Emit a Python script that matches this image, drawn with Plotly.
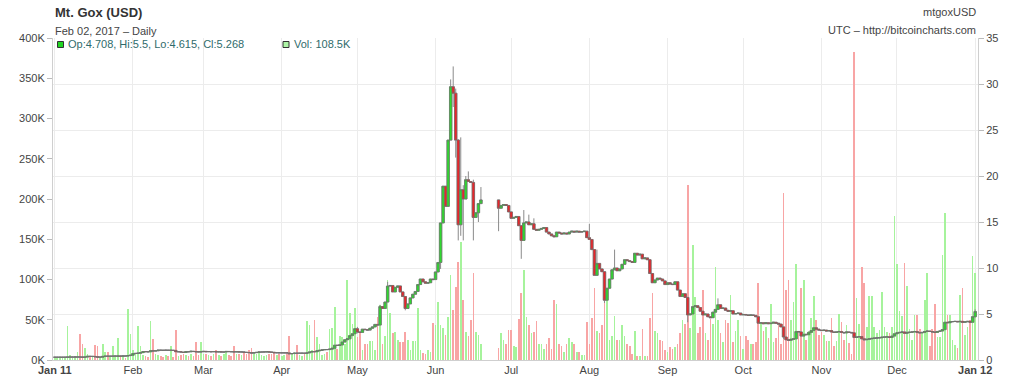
import pandas as pd
import plotly.graph_objects as go

# ---------------- data (daily, Mt.Gox 2011) ----------------
jan_close = [0.30,0.30,0.30,0.30,0.30,0.32,0.32,0.32,0.32,0.33,0.32,0.31,0.32,0.40,0.39,0.39,0.35,0.31,0.31,0.39,0.42,0.41,0.41,0.42,0.42,0.43,0.42,0.44,0.43,0.48,0.52]
jan_vol = [2,3,2,4,3,42,6,3,5,10,32,20,15,8,5,4,19,17,3,20,10,10,4,17,6,27,4,5,3,63,32]

feb_close = [0.70,0.72,0.74,0.80,0.92,0.90,0.89,1.00,0.98,1.00,1.07,1.06,1.05,1.07,1.05,1.06,1.04,0.90,0.90,0.86,0.82,0.91,0.89,0.95,0.92,0.89,0.88,0.90]
feb_vol = [12,8,42,17,6,5,4,48,26,8,6,5,4,6,5,17,4,37,5,6,8,6,5,8,5,22,6,22]

mar_close = [0.94,0.90,0.92,0.89,0.92,0.88,0.89,0.87,0.87,0.93,0.91,0.90,0.88,0.90,0.87,0.88,0.84,0.82,0.80,0.75,0.80,0.83,0.87,0.87,0.88,0.89,0.86,0.84,0.79,0.79,0.78]
mar_vol = [8,8,6,5,7,12,6,5,8,10,6,5,18,7,8,6,10,8,12,15,9,7,11,6,5,6,8,7,10,6,8]

apr_close = [0.78,0.78,0.77,0.68,0.70,0.74,0.73,0.74,0.74,0.73,0.77,0.86,0.92,0.90,1.00,1.05,1.10,1.14,1.13,1.18,1.27,1.61,1.58,1.64,1.95,2.20,2.30,2.65,2.85,3.40]
apr_vol = [5,6,7,30,8,10,19,6,5,8,48,43,12,50,29,20,6,8,10,38,40,66,14,30,29,20,100,58,45,65]

may_close = [3.05,3.00,3.35,3.30,3.25,3.45,3.60,3.87,3.80,5.81,5.60,6.30,8.03,8.10,7.40,7.90,8.05,7.40,6.90,5.60,6.10,6.75,7.15,7.45,8.20,8.80,8.50,8.35,8.40,8.80,8.74]
may_vol = [29,33,12,20,20,24,24,12,54,68,20,30,100,58,33,35,25,22,22,35,25,12,24,24,65,12,9,7,12,10,46]

# June: trading halted Jun 20-25
jun_close = [9.57,10.60,14.90,18.89,16.70,23.90,29.70,29.00,23.90,14.70,18.50,17.50,19.60,19.40,19.30,15.50,16.00,17.00,17.40,
             16.50,16.80,16.90,16.80,16.10]
jun_vol = [43,72,43,40,31,54,105,62,91,122,147,75,35,30,50,108,35,31,20,
           15,33,25,20,37]

jul_close = [15.40,15.50,15.60,14.60,13.00,14.90,15.00,14.70,14.80,14.20,14.10,14.20,14.30,14.40,13.90,13.70,13.50,13.40,13.90,13.80,13.70,13.80,13.70,13.90,14.00,13.90,14.00,13.90,13.95,14.00,13.30]
jul_vol = [37,18,16,51,83,112,53,43,33,35,48,20,20,14,20,27,14,75,70,20,18,10,20,27,22,20,10,10,6,6,47]

aug_close = [13.10,12.00,9.20,10.50,9.90,9.60,6.50,7.80,8.80,9.80,10.00,9.70,9.90,10.40,10.90,10.80,10.70,10.60,11.60,11.40,11.50,11.00,11.10,10.90,9.40,8.40,8.70,8.90,8.80,8.60,8.20]
aug_vol = [20,52,90,36,33,43,100,85,25,30,55,25,25,43,30,20,18,8,36,5,5,38,5,5,52,83,36,33,25,23,12]

sep_close = [8.40,8.25,8.20,8.50,7.60,6.90,7.20,6.80,4.90,5.00,5.80,5.90,5.70,5.30,4.90,5.00,4.70,4.60,5.20,5.50,6.00,5.60,5.65,5.40,5.30,5.35,5.00,5.05,5.10,4.90]
sep_vol = [10,16,14,16,20,33,50,45,217,40,143,78,33,41,87,33,25,51,45,116,50,33,22,50,46,81,22,36,50,30]

oct_close = [4.95,4.90,4.85,4.90,4.85,4.70,4.00,4.05,3.95,4.05,3.95,4.00,4.10,4.00,3.90,3.60,2.50,2.20,2.15,2.25,2.30,3.10,3.05,2.60,2.80,2.75,3.00,3.20,3.50,3.35,3.25]
oct_vol = [14,30,25,20,20,22,96,45,36,41,27,70,22,27,43,20,207,87,100,50,72,119,33,90,100,25,36,52,79,50,31]

nov_close = [3.20,3.25,3.15,3.20,3.05,3.00,3.05,3.10,3.00,2.95,3.05,3.00,2.95,2.45,2.50,2.55,2.30,2.20,2.25,2.30,2.35,2.38,2.40,2.42,2.48,2.50,2.52,2.45,2.60,2.85]
nov_vol = [35,31,23,23,52,17,23,57,47,25,43,21,8,382,77,45,116,96,41,79,79,41,33,37,84,41,35,33,41,179]

dec_close = [2.95,3.00,3.05,2.90,3.00,3.02,3.05,3.10,3.00,2.95,3.00,3.10,3.15,3.10,3.05,3.00,
             3.10,3.15,3.30,4.10,4.05,4.15,4.18,4.20,4.15,4.20,4.10,4.15,4.20,4.10,4.708]
dec_vol = [119,61,55,121,92,39,25,56,56,39,33,75,108,17,39,70,
           29,29,130,182,56,56,25,19,15,81,90,31,41,50,129]

jan12_close = [5.268]
jan12_vol = [108.5]

first_open = 0.30

# visible wick extremes (date: (high, low))
wicks = {
    '2011-02-09': (1.10, None), '2011-05-01': (3.60, 2.90), '2011-05-10': (6.00, None),
    '2011-05-13': (8.50, None), '2011-05-20': (None, 5.40), '2011-06-03': (None, 9.90),
    '2011-06-07': (30.50, None), '2011-06-08': (31.91, 27.50), '2011-06-09': (29.50, 22.00),
    '2011-06-10': (24.00, 13.00), '2011-06-11': (24.20, 13.50), '2011-06-12': (19.00, 13.00),
    '2011-06-13': (20.00, None), '2011-06-14': (20.50, None), '2011-06-16': (19.60, 13.00),
    '2011-06-18': (None, 15.00), '2011-06-19': (18.80, None), '2011-06-26': (None, 14.00),
    '2011-07-05': (None, 11.00), '2011-07-06': (16.30, None), '2011-07-08': (15.80, None),
    '2011-07-10': (15.40, None), '2011-08-01': (14.80, None), '2011-08-04': (12.00, None),
    '2011-08-07': (None, 6.20), '2011-08-11': (12.00, None), '2011-09-09': (None, 4.10),
    '2011-09-21': (6.70, None), '2011-10-17': (None, 2.30), '2012-01-01': (5.50, 4.615),
}

month_ticks = ['2011-01-01','2011-02-01','2011-03-01','2011-04-01','2011-05-01','2011-06-01',
               '2011-07-01','2011-08-01','2011-09-01','2011-10-01','2011-11-01','2011-12-01','2012-01-01']
month_labels = ['<b>Jan 11</b>','Feb','Mar','Apr','May','Jun','Jul','Aug','Sep','Oct','Nov','Dec','<b>Jan 12</b>']

vol_ticks = [0,50000,100000,150000,200000,250000,300000,350000,400000]
vol_labels = ['0K','50K','100K','150K','200K','250K','300K','350K','400K']

# ---------------- assemble ----------------
closes = (jan_close + feb_close + mar_close + apr_close + may_close + jun_close + jul_close +
          aug_close + sep_close + oct_close + nov_close + dec_close + jan12_close)
vols = (jan_vol + feb_vol + mar_vol + apr_vol + may_vol + jun_vol + jul_vol +
        aug_vol + sep_vol + oct_vol + nov_vol + dec_vol + jan12_vol)
halt = (pd.Timestamp('2011-06-20'), pd.Timestamp('2011-06-25'))
dates = [d for d in pd.date_range('2011-01-01', '2012-01-01') if not (halt[0] <= d <= halt[1])]
assert len(dates) == len(closes) == len(vols)

opens = [first_open] + closes[:-1]
highs, lows, btop, bbot = [], [], [], []
for d, o, c in zip(dates, opens, closes):
    hi, lo = max(o, c), min(o, c)
    btop.append(hi)
    bbot.append(lo)
    w = wicks.get(d.strftime('%Y-%m-%d'))
    if w:
        if w[0] is not None:
            hi = max(hi, w[0])
        if w[1] is not None:
            lo = min(lo, w[1])
    highs.append(hi)
    lows.append(lo)

bar_colors = ['#a6f39c' if c >= o else '#f8a5a5' for o, c in zip(opens, closes)]

fig = go.Figure()
fig.add_trace(go.Bar(x=dates, y=[v * 1000 for v in vols], marker=dict(color=bar_colors, line=dict(width=0)),
                     width=0.65 * 86400000, yaxis='y', hoverinfo='skip'))
# wicks (gray)
fig.add_trace(go.Candlestick(x=dates, open=opens, high=highs, low=lows, close=closes, yaxis='y2',
                             increasing=dict(line=dict(color='#8a8a8a', width=1), fillcolor='#8a8a8a'),
                             decreasing=dict(line=dict(color='#8a8a8a', width=1), fillcolor='#8a8a8a'),
                             whiskerwidth=0, hoverinfo='skip'))
# coloured bodies
fig.add_trace(go.Candlestick(x=dates, open=opens, high=btop, low=bbot, close=closes, yaxis='y2',
                             increasing=dict(line=dict(color='#6f6f6f', width=0.5), fillcolor='#2fd82f'),
                             decreasing=dict(line=dict(color='#6f6f6f', width=0.5), fillcolor='#e8262b'),
                             whiskerwidth=0, hoverinfo='skip'))

W, H = 1024, 388
L, R, T, B = 53, 46, 38, 28
pw, ph = W - L - R, H - T - B

def px(x):
    return (x - L) / pw

def py(y):
    return (H - B - y) / ph

font_family = 'Arial, Liberation Sans, sans-serif'
fig.update_layout(
    width=W, height=H, margin=dict(l=L, r=R, t=T, b=B, autoexpand=False),
    paper_bgcolor='white', plot_bgcolor='white', showlegend=False,
    font=dict(family=font_family, size=11, color='#444'),
    bargap=0, boxgap=0.05, boxgroupgap=0, boxmode='overlay',
    xaxis=dict(type='date', range=['2010-12-31 07:00', '2012-01-02 03:00'], automargin=False,
               tickvals=month_ticks, ticktext=month_labels, tickfont=dict(size=11, color='#444'),
               showgrid=True, gridcolor='#ececec', gridwidth=1, showline=True, linecolor='#cfcfcf',
               ticks='', rangeslider=dict(visible=False), zeroline=False, fixedrange=True),
    yaxis=dict(range=[0, 400000], tickvals=vol_ticks, ticktext=vol_labels, showgrid=False, automargin=False,
               ticks='outside', ticklen=5, tickcolor='#bbbbbb', showline=True, linecolor='#cfcfcf',
               tickfont=dict(size=11, color='#444'), zeroline=False, fixedrange=True),
    yaxis2=dict(range=[0, 35], dtick=5, overlaying='y', side='right', showgrid=True, gridcolor='#ececec',
                ticks='outside', ticklen=5, tickcolor='#bbbbbb', showline=True, linecolor='#cfcfcf',
                automargin=False, tickfont=dict(size=11, color='#444'), zeroline=False, fixedrange=True),
)

ann = [
    dict(text='<b>Mt. Gox (USD)</b>', x=px(53), y=py(13), xanchor='left', yanchor='middle',
         font=dict(size=13, color='#333')),
    dict(text='Feb 02, 2017 \u2013 Daily', x=px(53), y=py(31), xanchor='left', yanchor='middle',
         font=dict(size=11, color='#444')),
    dict(text='mtgoxUSD', x=px(978), y=py(12), xanchor='right', yanchor='middle',
         font=dict(size=11, color='#444')),
    dict(text='UTC \u2013 http://bitcoincharts.com', x=px(978), y=py(30), xanchor='right', yanchor='middle',
         font=dict(size=11, color='#444')),
    dict(text='Op:4.708, Hi:5.5, Lo:4.615, Cl:5.268', x=px(66), y=py(44), xanchor='left', yanchor='middle',
         font=dict(size=11, color='#2f6b6b')),
    dict(text='Vol: 108.5K', x=px(292), y=py(44), xanchor='left', yanchor='middle',
         font=dict(size=11, color='#2f6b6b')),
]
for a in ann:
    a.update(xref='paper', yref='paper', showarrow=False)
fig.update_layout(annotations=ann)

fig.update_layout(shapes=[
    dict(type='rect', xref='paper', yref='paper', x0=px(57.5), x1=px(63.5), y0=py(47.5), y1=py(41.5),
         fillcolor='#22d622', line=dict(color='#333', width=1)),
    dict(type='rect', xref='paper', yref='paper', x0=px(283), x1=px(289), y0=py(47.5), y1=py(41.5),
         fillcolor='#aef5a6', line=dict(color='#333', width=1)),
])

fig.write_html('out.html', config={'displayModeBar': False, 'staticPlot': True},
               post_script="document.body.style.margin='0';document.body.style.overflow='hidden';")
